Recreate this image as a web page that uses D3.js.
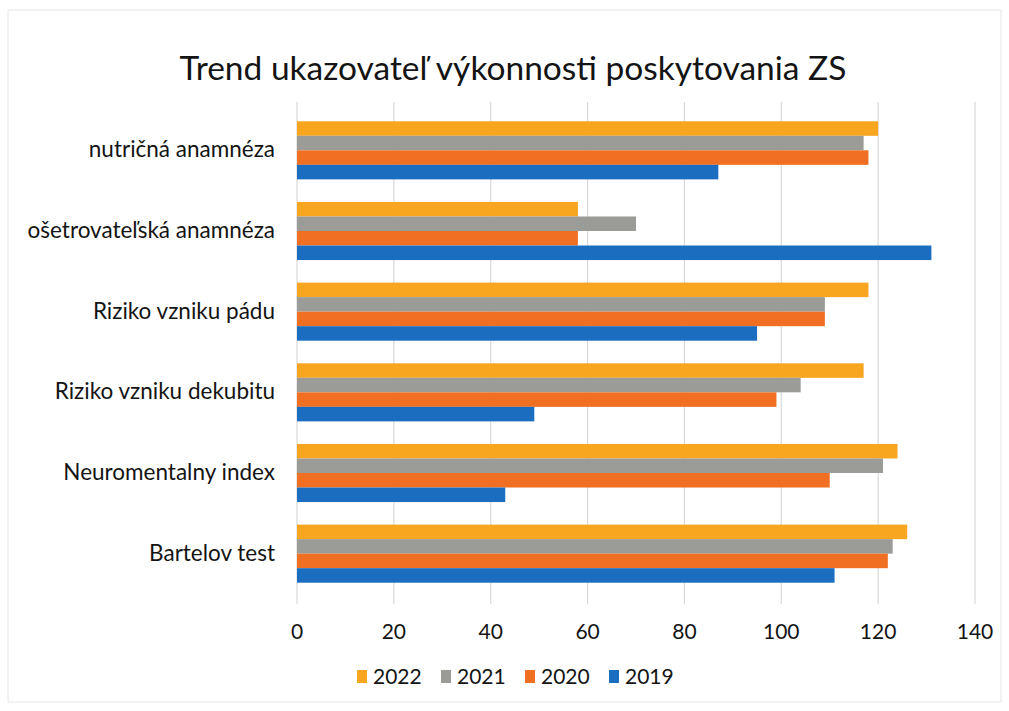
<!DOCTYPE html>
<html>
<head>
<meta charset="utf-8">
<script src="https://cdn.jsdelivr.net/npm/d3@7"></script>
<style>
  body { margin: 0; background: #fff; }
  text { font-family: Lato, "Open Sans", sans-serif; fill: #141414; }
</style>
</head>
<body>
<svg id="chart" width="1009" height="711"></svg>
<script>
// data (top to bottom as drawn)
const categories = ["nutričná anamnéza", "ošetrovateľská anamnéza", "Riziko vzniku pádu",
  "Riziko vzniku dekubitu", "Neuromentalny index", "Bartelov test"]
const years = ["2022", "2021", "2020", "2019"]
const v2022 = [120, 58, 118, 117, 124, 126]
const v2021 = [117, 70, 109, 104, 121, 123]
const v2020 = [118, 58, 109, 99, 110, 122]
const v2019 = [87, 131, 95, 49, 43, 111]
const xTicks = [0, 20, 40, 60, 80, 100, 120, 140]
const colors = ["#F8A51F", "#9B9B97", "#F06F22", "#1B6DC0"]

const series = [v2022, v2021, v2020, v2019]
const rows = categories.map((c, i) => ({ cat: c, vals: series.map((s, j) => ({ year: years[j], v: s[i] })) }))

const svg = d3.select('#chart')

// chart frame
svg.append('rect')
  .attr('x', 8).attr('y', 10).attr('width', 993).attr('height', 692)
  .attr('fill', 'none').attr('stroke', '#e6e6e6')

const x = d3.scaleLinear().domain([0, 140]).range([297, 975])
const y = d3.scaleBand().domain(categories).range([110, 594]).paddingInner(0.28).paddingOuter(0.14)
const ySub = d3.scaleBand().domain(years).range([0, y.bandwidth()])

// vertical gridlines
svg.append('g')
  .selectAll('line')
  .data(xTicks)
  .enter()
  .append('line')
  .attr('x1', d => x(d)).attr('x2', d => x(d))
  .attr('y1', 102).attr('y2', 604)
  .attr('stroke', '#d9d9d9').attr('stroke-width', 1.2)

// bars
const groups = svg.append('g')
  .selectAll('g.cat')
  .data(rows)
  .enter()
  .append('g')
  .attr('transform', d => `translate(0,${y(d.cat)})`)

groups.selectAll('rect')
  .data(d => d.vals)
  .enter()
  .append('rect')
  .attr('x', x(0))
  .attr('y', d => ySub(d.year))
  .attr('width', d => x(d.v) - x(0))
  .attr('height', ySub.bandwidth())
  .attr('fill', (d, i) => colors[i])

// category labels
svg.append('g')
  .selectAll('text')
  .data(categories)
  .enter()
  .append('text')
  .attr('x', 275)
  .attr('y', d => y(d) + y.bandwidth() / 2 + 7)
  .attr('text-anchor', 'end')
  .style('font-size', '22.5px')
  .text(d => d)

// x tick labels
svg.append('g')
  .selectAll('text')
  .data(xTicks)
  .enter()
  .append('text')
  .attr('x', d => x(d))
  .attr('y', 639)
  .attr('text-anchor', 'middle')
  .style('font-size', '21px')
  .text(d => d)

// title
svg.append('text')
  .attr('x', 513).attr('y', 80)
  .attr('text-anchor', 'middle')
  .style('font-size', '33.5px')
  .text('Trend ukazovateľ výkonnosti poskytovania ZS')

// legend
const leg = svg.append('g')
  .selectAll('g')
  .data(years)
  .enter()
  .append('g')
  .attr('transform', (d, i) => `translate(${357 + i * 84},670)`)

leg.append('rect')
  .attr('width', 10).attr('height', 13)
  .attr('fill', (d, i) => colors[i])

leg.append('text')
  .attr('x', 16).attr('y', 14)
  .style('font-size', '21px')
  .text(d => d)
</script>
</body>
</html>
